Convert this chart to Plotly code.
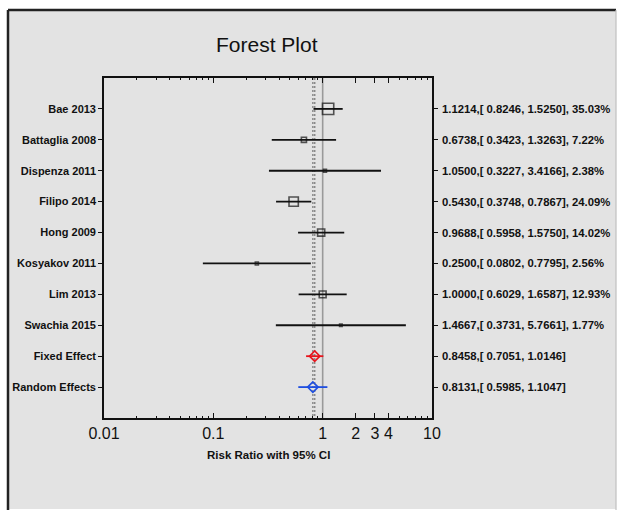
import numpy as np
import plotly.graph_objects as go

studies = ["Bae 2013", "Battaglia 2008", "Dispenza 2011", "Filipo 2014", "Hong 2009",
           "Kosyakov 2011", "Lim 2013", "Swachia 2015"]
rr = [1.1214, 0.6738, 1.0500, 0.5430, 0.9688, 0.2500, 1.0000, 1.4667]
lower = [0.8246, 0.3423, 0.3227, 0.3748, 0.5958, 0.0802, 0.6029, 0.3731]
upper = [1.5250, 1.3263, 3.4166, 0.7867, 1.5750, 0.7795, 1.6587, 5.7661]
weights = [35.03, 7.22, 2.38, 24.09, 14.02, 2.56, 12.93, 1.77]

pooled_names = ["Fixed Effect", "Random Effects"]
pooled_rr = [0.8458, 0.8131]
pooled_lower = [0.7051, 0.5985]
pooled_upper = [1.0146, 1.1047]
pooled_colors = ["#e8141c", "#1f4fe0"]

tick_vals = [0.01, 0.1, 1, 2, 3, 4, 10]
tick_text = ["0.01", "0.1", "1", "2", "3", "4", "10"]
minor_vals = [m * d for d in [0.01, 0.1, 1] for m in range(2, 10)]

FONT = "Liberation Sans, Arial, sans-serif"
W, H = 617, 510
L, R, T, B = 104, 432, 78, 418   # plot area in pixels


def px_x(px):
    return (px - L) / (R - L)


def px_y(py):
    return (B - py) / (B - T)


rows = list(range(1, len(studies) + 1))
prow = [len(studies) + 1 + i for i in range(len(pooled_names))]
all_labels = ["<b>%s</b>" % s for s in studies + pooled_names]
all_rows = rows + prow

fig = go.Figure()

# reference lines
fig.add_trace(go.Scatter(x=[1, 1], y=[0, 11], mode="lines",
                         line=dict(color="#9a9a9a", width=1.6), hoverinfo="skip", showlegend=False))
for v in pooled_rr:
    fig.add_trace(go.Scatter(x=[v, v], y=[0, 11], mode="lines",
                             line=dict(color="#8a8a8a", width=1.5, dash="2px,2px"),
                             hoverinfo="skip", showlegend=False))

# study CIs
cx, cy = [], []
for lo, hi, r in zip(lower, upper, rows):
    cx += [lo, hi, None]
    cy += [r, r, None]
fig.add_trace(go.Scatter(x=cx, y=cy, mode="lines", line=dict(color="#111", width=1.8),
                         hoverinfo="skip", showlegend=False))
fig.add_trace(go.Scatter(x=rr, y=rows, mode="markers",
                         marker=dict(symbol="square-open", color="#111",
                                     size=[1.9 * np.sqrt(w) for w in weights],
                                     line=dict(width=1.6, color="#111")),
                         showlegend=False))

# pooled
for name, v, lo, hi, c, r in zip(pooled_names, pooled_rr, pooled_lower, pooled_upper, pooled_colors, prow):
    fig.add_trace(go.Scatter(x=[lo, hi], y=[r, r], mode="lines", line=dict(color=c, width=1.8),
                             hoverinfo="skip", showlegend=False))
    fig.add_trace(go.Scatter(x=[v], y=[r], mode="markers",
                             marker=dict(symbol="diamond-open", size=8, color=c,
                                         line=dict(width=1.6, color=c)),
                             showlegend=False, name=name))

# right-hand text
annotations = []
for i, r in enumerate(rows):
    annotations.append(dict(
        x=px_x(440), xref="paper", y=r, yref="y", xanchor="left", yanchor="middle",
        text=f"<b>{rr[i]:.4f},[ {lower[i]:.4f}, {upper[i]:.4f}], {weights[i]:.2f}%</b>",
        showarrow=False, font=dict(family=FONT, size=11.3, color="#111")))
for i, r in enumerate(prow):
    annotations.append(dict(
        x=px_x(440), xref="paper", y=r, yref="y", xanchor="left", yanchor="middle",
        text=f"<b>{pooled_rr[i]:.4f},[ {pooled_lower[i]:.4f}, {pooled_upper[i]:.4f}]</b>",
        showarrow=False, font=dict(family=FONT, size=11.3, color="#111")))

annotations.append(dict(x=px_x(267), y=px_y(45), xref="paper", yref="paper",
                        text="Forest Plot", showarrow=False, xanchor="center", yanchor="middle",
                        font=dict(family=FONT, size=21, color="#111")))
annotations.append(dict(x=px_x(268), y=px_y(455), xref="paper", yref="paper",
                        text="<b>Risk Ratio with 95% CI</b>", showarrow=False, xanchor="center",
                        yanchor="middle", font=dict(family=FONT, size=11.5, color="#111")))

shapes = [
    dict(type="rect", xref="paper", yref="paper", x0=px_x(8), x1=px_x(616), y0=px_y(509),
         y1=px_y(10), fillcolor="#e3e3e3", line=dict(width=0), layer="below"),
    dict(type="line", xref="paper", yref="paper", x0=px_x(8), x1=px_x(8), y0=px_y(510),
         y1=px_y(10), line=dict(color="#222", width=2.5), layer="below"),
    dict(type="line", xref="paper", yref="paper", x0=px_x(8), x1=px_x(616), y0=px_y(10),
         y1=px_y(10), line=dict(color="#222", width=2.5), layer="below"),
    dict(type="line", xref="paper", yref="paper", x0=px_x(616), x1=px_x(616), y0=px_y(510),
         y1=px_y(10), line=dict(color="#c0c0c0", width=1.2), layer="below"),
]

fig.update_layout(
    width=W, height=H,
    margin=dict(l=L, r=W - R, t=T, b=H - B, pad=0),
    paper_bgcolor="white", plot_bgcolor="rgba(0,0,0,0)",
    showlegend=False,
    annotations=annotations, shapes=shapes,
    xaxis=dict(type="log", range=[-2, 1], tickmode="array", tickvals=tick_vals, ticktext=tick_text,
               ticks="inside", ticklen=5, tickwidth=1.4, tickcolor="#111",
               showline=True, linecolor="#111", linewidth=1.6, mirror="ticks",
               showgrid=False, zeroline=False,
               tickfont=dict(family=FONT, size=16, color="#111"),
               minor=dict(tickvals=minor_vals, ticks="inside", ticklen=2.5, tickwidth=1.2,
                          tickcolor="#111", showgrid=False)),
    yaxis=dict(range=[11, 0], tickmode="array", tickvals=all_rows, ticktext=all_labels,
               ticks="outside", ticklen=4, tickwidth=1.4, tickcolor="#111",
               showline=True, linecolor="#111", linewidth=1.6, mirror="ticks",
               showgrid=False, zeroline=False,
               tickfont=dict(family=FONT, size=11, color="#111")),
)

fig.write_html("out.html")
